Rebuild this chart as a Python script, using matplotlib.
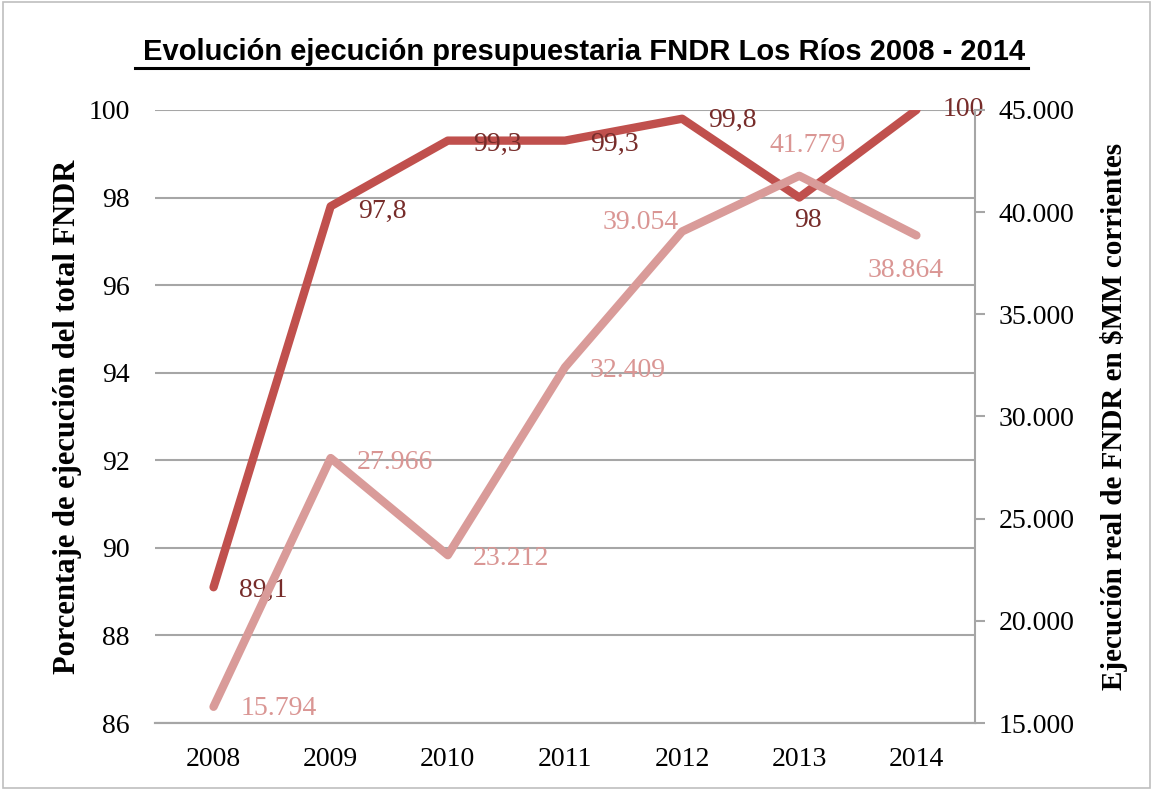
import matplotlib
matplotlib.use('Agg')
import matplotlib.pyplot as plt
from matplotlib.lines import Line2D
from matplotlib.patches import Rectangle
from matplotlib.ticker import FuncFormatter

years = ['2008', '2009', '2010', '2011', '2012', '2013', '2014']
pct_ejec = [89.1, 97.8, 99.3, 99.3, 99.8, 98, 100]
monto_mm = [15794, 27966, 23212, 32409, 39054, 41779, 38864]
pct_labels = ['89,1', '97,8', '99,3', '99,3', '99,8', '98', '100']
monto_labels = ['15.794', '27.966', '23.212', '32.409', '39.054', '41.779', '38.864']

# where each data label sits relative to its point (pixels, ha)
pct_lbl_pos = [(25, -3, 'left'), (27, -5, 'left'), (25, -4, 'left'), (25, -4, 'left'),
               (26, -2, 'left'), (9, -23, 'center'), (26, 0, 'left')]
monto_lbl_pos = [(27, -2, 'left'), (26, -4, 'left'), (25, -3, 'left'), (25, -3, 'left'),
                 (-3, 9, 'right'), (8, 30, 'center'), (-11, -35, 'center')]

C_DARK = '#C0504D'
C_LIGHT = '#D99B99'
C_DARK_TXT = '#772C2A'
C_LIGHT_TXT = '#DA9694'
GRID = '#A6A6A6'
SERIF = ['Liberation Serif', 'DejaVu Serif']

fig = plt.figure(figsize=(11.53, 7.90), dpi=100)
ax = fig.add_axes([0.1344, 0.0848, 0.7112, 0.776])
ax2 = ax.twinx()

x = list(range(len(years)))
ax.plot(x, pct_ejec, color=C_DARK, lw=6, solid_capstyle='round', zorder=3)
ax2.plot(x, monto_mm, color=C_LIGHT, lw=6, solid_capstyle='round', zorder=3)

for xi, v, s, (dx, dy, ha) in zip(x, pct_ejec, pct_labels, pct_lbl_pos):
    ax.annotate(s, (xi, v), xytext=(dx, dy), textcoords='offset pixels',
                va='center', ha=ha, color=C_DARK_TXT, fontsize=20, family=SERIF)
for xi, v, s, (dx, dy, ha) in zip(x, monto_mm, monto_labels, monto_lbl_pos):
    ax2.annotate(s, (xi, v), xytext=(dx, dy), textcoords='offset pixels',
                 va='center', ha=ha, color=C_LIGHT_TXT, fontsize=20, family=SERIF)

ax.set_xlim(-0.5, 6.5)
ax.set_ylim(86, 100)
ax.set_yticks(range(86, 101, 2))
ax2.set_ylim(15000, 45000)
ax2.set_yticks(range(15000, 45001, 5000))
ax2.yaxis.set_major_formatter(FuncFormatter(lambda v, p: f'{int(v):,}'.replace(',', '.')))

ax.set_xticks(x)
ax.set_xticklabels(years)
ax.grid(axis='y', color=GRID, lw=1.5)
ax.set_axisbelow(True)

for a in (ax, ax2):
    for side in ('top', 'left', 'right'):
        a.spines[side].set_visible(False)
    a.spines['bottom'].set_color(GRID)
    a.spines['bottom'].set_linewidth(1.5)
ax2.spines['right'].set_visible(True)
ax2.spines['right'].set_color(GRID)
ax2.spines['right'].set_linewidth(1.5)

ax.tick_params(axis='x', length=0, labelsize=20, pad=17)
ax.tick_params(axis='y', length=0, labelsize=20, pad=18)
ax2.tick_params(axis='y', length=7, width=1.5, color=GRID, labelsize=20, pad=10)
for lab in ax.get_xticklabels() + ax.get_yticklabels() + ax2.get_yticklabels():
    lab.set_family(SERIF)

ax.set_ylabel('Porcentaje de ejecución del total FNDR', fontsize=22, fontweight='bold',
              family=SERIF, labelpad=5)
ax2.set_ylabel('Ejecución real de FNDR en $MM corrientes', fontsize=21, fontweight='bold',
               family=SERIF, labelpad=18)

# title with underline
fig.text(0.5064, 0.934, 'Evolución ejecución presupuestaria FNDR Los Ríos 2008 - 2014',
         ha='center', va='center', fontsize=21, fontweight='bold',
         family=['Liberation Sans', 'DejaVu Sans'])
fig.add_artist(Line2D([0.117, 0.892], [0.914, 0.914], color='black', lw=2.2,
                      transform=fig.transFigure))

fig.add_artist(Rectangle((0.003, 0.003), 0.994, 0.994, fill=False, edgecolor='#BFBFBF',
                         lw=1.2, transform=fig.transFigure))

fig.savefig('out.png', dpi=100)
